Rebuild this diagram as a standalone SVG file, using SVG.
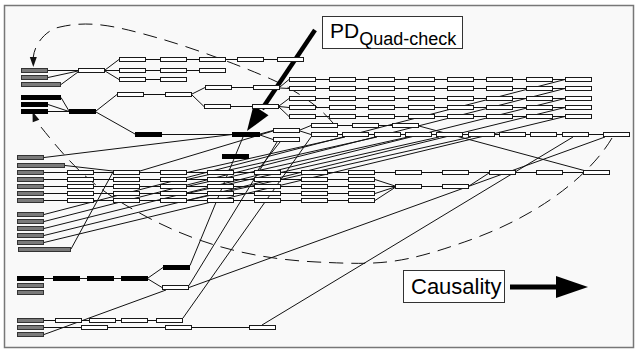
<svg xmlns="http://www.w3.org/2000/svg" width="637" height="350" viewBox="0 0 637 350">
<style>
.w{fill:#fff;stroke:#1a1a1a;stroke-width:1}
.g{fill:#7a7a7a;stroke:#333;stroke-width:1}
.k{fill:#000;stroke:#000;stroke-width:1}
.ln{fill:none;stroke:#111;stroke-width:1}
.ds{fill:none;stroke:#111;stroke-width:1;stroke-dasharray:14,8}
.lb{fill:#fff;stroke:#333;stroke-width:1}
text{font-family:"Liberation Sans",Arial,sans-serif;fill:#000}
</style>
<rect x="0" y="0" width="637" height="350" fill="#fff"/>
<rect x="4.5" y="5.5" width="629" height="342" fill="#f9f9f9" stroke="#777" stroke-width="1.5"/>
<g id="connectors">
<path class="ln" d="M48,70.5H78 M48,77.5L78,71 M61,84.5L78,72 M105,70L119,59.5 M105,70.5H119 M105,71L119,79.5 M119,59.5H304 M119,70.5H226 M119,79.5H187"/>
<path class="ln" d="M61,97.5L69,111 M48,104.5L69,111.5 M48,111.5H69 M96,111L117,94.5 M96,112L135,134 M144,94.5H165 M192,94L205,87.5 M192,95L204,106.5 M232,87.5H253 M231,106.5H252 M280,87L289,79.5 M280,88L289,88.5 M279,106L289,98.5 M279,106.5L289,107.5 M279,107L289,116.5 M162,134.5H232 M260,134L273,130.5 M260,135L273,139.5 M300,130L311,125.5 M300,131L311,134.5"/>
<path class="ln" d="M289,79.5H592 M289,88.5H592 M289,98.5H592 M289,107.5H592 M289,116.5H592 M311,125.5H419 M311,134.5H630 M419,126L586,171"/>
<path class="ln" d="M44,172.5H583 M44,179.5H375 M44,186.5H450 M44,193.5H375 M44,200.5H375 M375,179.5L395,186 M375,193.5L395,187 M375,200.5L395,187.5 M469,186L489,173"/>
<path class="ln" d="M44,157.5L232,134.5 M65,165.5L113,171 M140,171L273,131 M71,249L113,172 M258,170L280,142"/>
<path class="ln" d="M190,265.5L243,137 M189,285.5L277,142 M183,318L311,137 M262,325L573,137 M189,287.5L605,137"/>
<path class="ln" d="M187,172.5L345,137 M187,179.5L377,137 M187,186.5L408,137 M187,193.5L439,137 M187,200.5L471,137"/>
<path class="ln" d="M44,214.5L565,79.5 M44,221.5L565,88.5 M44,228.5L565,98.5 M44,235.5L565,107.5 M44,242.5L565,116.5"/>
<path class="ln" d="M44,278.5H121 M148,278L163,267.5 M148,279L162,287.5 M44,320.5H156 M44,327.5H249 M44,334.5L166,290"/>
<path class="ds" d="M333,123 C318,105 295,90 273,80 S200,50 158,38 S90,20 60,27 C48,29 35,42 33.3,57"/>
<polygon points="33.3,67 29.8,57 36.8,57" fill="#111"/>
<path class="ds" d="M612,138 C590,175 540,215 470,240 S380,265 317,262 S200,245 147,217 S75,170 37,122"/>
<polygon points="32.5,111.5 39.3,119.8 32.7,122.2" fill="#111"/>
</g>
<g id="pd-arrow">
<line x1="315" y1="30" x2="262" y2="109" stroke="#000" stroke-width="4.5"/>
<polygon points="247,131 253.5,105.3 268.5,115.3" fill="#000"/>
</g>
<g id="g1a"><rect class="g" x="21.5" y="68.5" width="26" height="4"/></g>
<g id="g1b"><rect class="g" x="21.5" y="75.5" width="26" height="4"/></g>
<g id="g1c"><rect class="g" x="21.5" y="82.5" width="39" height="4"/></g>
<g id="nA"><rect class="w" x="78.5" y="68.5" width="26" height="4"/></g>
<g id="r1a"><rect class="w" x="119.5" y="57.5" width="26" height="4"/></g>
<g id="r1b"><rect class="w" x="160.5" y="57.5" width="26" height="4"/></g>
<g id="r1c"><rect class="w" x="199.5" y="57.5" width="26" height="4"/></g>
<g id="r1d"><rect class="w" x="237.5" y="57.5" width="26" height="4"/></g>
<g id="r1e"><rect class="w" x="277.5" y="57.5" width="26" height="4"/></g>
<g id="r2a"><rect class="w" x="119.5" y="68.5" width="26" height="4"/></g>
<g id="r2b"><rect class="w" x="160.5" y="68.5" width="26" height="4"/></g>
<g id="r2c"><rect class="w" x="199.5" y="68.5" width="26" height="4"/></g>
<g id="r3a"><rect class="w" x="119.5" y="77.5" width="26" height="4"/></g>
<g id="r3b"><rect class="w" x="160.5" y="77.5" width="26" height="4"/></g>
<g id="k1"><rect class="k" x="21.5" y="95.5" width="39" height="4"/></g>
<g id="k2"><rect class="k" x="21.5" y="102.5" width="26" height="4"/></g>
<g id="k3"><rect class="k" x="21.5" y="109.5" width="26" height="4"/></g>
<g id="nB"><rect class="k" x="69.5" y="109.5" width="26" height="4"/></g>
<g id="c1"><rect class="w" x="117.5" y="92.5" width="26" height="4"/></g>
<g id="c2"><rect class="w" x="165.5" y="92.5" width="26" height="4"/></g>
<g id="c3"><rect class="w" x="205.5" y="85.5" width="26" height="4"/></g>
<g id="c4"><rect class="w" x="204.5" y="104.5" width="26" height="4"/></g>
<g id="c5"><rect class="w" x="253.5" y="85.5" width="26" height="4"/></g>
<g id="c6"><rect class="w" x="252.5" y="104.5" width="26" height="4"/></g>
<g id="kb"><rect class="k" x="135.5" y="132.5" width="26" height="4"/></g>
<g id="pd"><rect class="k" x="232.5" y="132.5" width="27" height="4"/></g>
<g id="kc"><rect class="k" x="222.5" y="154.5" width="26" height="4"/></g>
<g id="p1"><rect class="w" x="273.5" y="128.5" width="26" height="4"/></g>
<g id="p2"><rect class="w" x="273.5" y="137.5" width="26" height="4"/></g>
<g id="u11"><rect class="w" x="289.5" y="77.5" width="26" height="4"/></g>
<g id="u12"><rect class="w" x="329.5" y="77.5" width="26" height="4"/></g>
<g id="u13"><rect class="w" x="368.5" y="77.5" width="26" height="4"/></g>
<g id="u14"><rect class="w" x="408.5" y="77.5" width="26" height="4"/></g>
<g id="u15"><rect class="w" x="447.5" y="77.5" width="26" height="4"/></g>
<g id="u16"><rect class="w" x="486.5" y="77.5" width="26" height="4"/></g>
<g id="u17"><rect class="w" x="526.5" y="77.5" width="26" height="4"/></g>
<g id="u18"><rect class="w" x="565.5" y="77.5" width="26" height="4"/></g>
<g id="u21"><rect class="w" x="289.5" y="86.5" width="26" height="4"/></g>
<g id="u22"><rect class="w" x="329.5" y="86.5" width="26" height="4"/></g>
<g id="u23"><rect class="w" x="368.5" y="86.5" width="26" height="4"/></g>
<g id="u24"><rect class="w" x="408.5" y="86.5" width="26" height="4"/></g>
<g id="u25"><rect class="w" x="447.5" y="86.5" width="26" height="4"/></g>
<g id="u26"><rect class="w" x="486.5" y="86.5" width="26" height="4"/></g>
<g id="u27"><rect class="w" x="526.5" y="86.5" width="26" height="4"/></g>
<g id="u28"><rect class="w" x="565.5" y="86.5" width="26" height="4"/></g>
<g id="u31"><rect class="w" x="289.5" y="96.5" width="26" height="4"/></g>
<g id="u32"><rect class="w" x="329.5" y="96.5" width="26" height="4"/></g>
<g id="u33"><rect class="w" x="368.5" y="96.5" width="26" height="4"/></g>
<g id="u34"><rect class="w" x="408.5" y="96.5" width="26" height="4"/></g>
<g id="u35"><rect class="w" x="447.5" y="96.5" width="26" height="4"/></g>
<g id="u36"><rect class="w" x="486.5" y="96.5" width="26" height="4"/></g>
<g id="u37"><rect class="w" x="526.5" y="96.5" width="26" height="4"/></g>
<g id="u38"><rect class="w" x="565.5" y="96.5" width="26" height="4"/></g>
<g id="u41"><rect class="w" x="289.5" y="105.5" width="26" height="4"/></g>
<g id="u42"><rect class="w" x="329.5" y="105.5" width="26" height="4"/></g>
<g id="u43"><rect class="w" x="368.5" y="105.5" width="26" height="4"/></g>
<g id="u44"><rect class="w" x="408.5" y="105.5" width="26" height="4"/></g>
<g id="u45"><rect class="w" x="447.5" y="105.5" width="26" height="4"/></g>
<g id="u46"><rect class="w" x="486.5" y="105.5" width="26" height="4"/></g>
<g id="u47"><rect class="w" x="526.5" y="105.5" width="26" height="4"/></g>
<g id="u48"><rect class="w" x="565.5" y="105.5" width="26" height="4"/></g>
<g id="u51"><rect class="w" x="289.5" y="114.5" width="26" height="4"/></g>
<g id="u52"><rect class="w" x="329.5" y="114.5" width="26" height="4"/></g>
<g id="u53"><rect class="w" x="368.5" y="114.5" width="26" height="4"/></g>
<g id="u54"><rect class="w" x="408.5" y="114.5" width="26" height="4"/></g>
<g id="u55"><rect class="w" x="447.5" y="114.5" width="26" height="4"/></g>
<g id="u56"><rect class="w" x="486.5" y="114.5" width="26" height="4"/></g>
<g id="u57"><rect class="w" x="526.5" y="114.5" width="26" height="4"/></g>
<g id="u58"><rect class="w" x="565.5" y="114.5" width="26" height="4"/></g>
<g id="s1"><rect class="w" x="311.5" y="123.5" width="26" height="4"/></g>
<g id="s2"><rect class="w" x="352.5" y="123.5" width="26" height="4"/></g>
<g id="s3"><rect class="w" x="392.5" y="123.5" width="26" height="4"/></g>
<g id="t1"><rect class="w" x="311.5" y="132.5" width="26" height="4"/></g>
<g id="t2"><rect class="w" x="342.5" y="132.5" width="26" height="4"/></g>
<g id="t3"><rect class="w" x="374.5" y="132.5" width="26" height="4"/></g>
<g id="t4"><rect class="w" x="405.5" y="132.5" width="26" height="4"/></g>
<g id="t5"><rect class="w" x="436.5" y="132.5" width="26" height="4"/></g>
<g id="t6"><rect class="w" x="468.5" y="132.5" width="26" height="4"/></g>
<g id="t7"><rect class="w" x="499.5" y="132.5" width="26" height="4"/></g>
<g id="t8"><rect class="w" x="530.5" y="132.5" width="26" height="4"/></g>
<g id="t9"><rect class="w" x="562.5" y="132.5" width="26" height="4"/></g>
<g id="t10"><rect class="w" x="603.5" y="132.5" width="26" height="4"/></g>
<g id="gl1"><rect class="g" x="17.5" y="155.5" width="26" height="4"/></g>
<g id="gl2"><rect class="g" x="17.5" y="163.5" width="47" height="4"/></g>
<g id="gl3"><rect class="g" x="17.5" y="170.5" width="26" height="4"/></g>
<g id="gl4"><rect class="g" x="17.5" y="177.5" width="26" height="4"/></g>
<g id="gl5"><rect class="g" x="17.5" y="184.5" width="26" height="4"/></g>
<g id="gl6"><rect class="g" x="17.5" y="191.5" width="26" height="4"/></g>
<g id="gl7"><rect class="g" x="17.5" y="198.5" width="26" height="4"/></g>
<g id="gl8"><rect class="g" x="17.5" y="212.5" width="26" height="4"/></g>
<g id="gl9"><rect class="g" x="17.5" y="219.5" width="26" height="4"/></g>
<g id="gl10"><rect class="g" x="17.5" y="226.5" width="26" height="4"/></g>
<g id="gl11"><rect class="g" x="17.5" y="233.5" width="26" height="4"/></g>
<g id="gl12"><rect class="g" x="17.5" y="240.5" width="26" height="4"/></g>
<g id="gl13"><rect class="g" x="18.5" y="247.5" width="52" height="4"/></g>
<g id="l11"><rect class="w" x="67.5" y="170.5" width="26" height="4"/></g>
<g id="l12"><rect class="w" x="113.5" y="170.5" width="26" height="4"/></g>
<g id="l13"><rect class="w" x="160.5" y="170.5" width="26" height="4"/></g>
<g id="l14"><rect class="w" x="207.5" y="170.5" width="26" height="4"/></g>
<g id="l15"><rect class="w" x="254.5" y="170.5" width="26" height="4"/></g>
<g id="l16"><rect class="w" x="301.5" y="170.5" width="26" height="4"/></g>
<g id="l17"><rect class="w" x="348.5" y="170.5" width="26" height="4"/></g>
<g id="l18"><rect class="w" x="395.5" y="170.5" width="26" height="4"/></g>
<g id="l19"><rect class="w" x="442.5" y="170.5" width="26" height="4"/></g>
<g id="l110"><rect class="w" x="489.5" y="170.5" width="26" height="4"/></g>
<g id="l111"><rect class="w" x="536.5" y="170.5" width="26" height="4"/></g>
<g id="l112"><rect class="w" x="583.5" y="170.5" width="26" height="4"/></g>
<g id="l21"><rect class="w" x="67.5" y="177.5" width="26" height="4"/></g>
<g id="l22"><rect class="w" x="113.5" y="177.5" width="26" height="4"/></g>
<g id="l23"><rect class="w" x="160.5" y="177.5" width="26" height="4"/></g>
<g id="l24"><rect class="w" x="207.5" y="177.5" width="26" height="4"/></g>
<g id="l25"><rect class="w" x="254.5" y="177.5" width="26" height="4"/></g>
<g id="l26"><rect class="w" x="301.5" y="177.5" width="26" height="4"/></g>
<g id="l27"><rect class="w" x="348.5" y="177.5" width="26" height="4"/></g>
<g id="l31"><rect class="w" x="67.5" y="184.5" width="26" height="4"/></g>
<g id="l32"><rect class="w" x="113.5" y="184.5" width="26" height="4"/></g>
<g id="l33"><rect class="w" x="160.5" y="184.5" width="26" height="4"/></g>
<g id="l34"><rect class="w" x="207.5" y="184.5" width="26" height="4"/></g>
<g id="l35"><rect class="w" x="254.5" y="184.5" width="26" height="4"/></g>
<g id="l36"><rect class="w" x="301.5" y="184.5" width="26" height="4"/></g>
<g id="l37"><rect class="w" x="348.5" y="184.5" width="26" height="4"/></g>
<g id="l38"><rect class="w" x="395.5" y="184.5" width="26" height="4"/></g>
<g id="l39"><rect class="w" x="442.5" y="184.5" width="26" height="4"/></g>
<g id="l41"><rect class="w" x="67.5" y="191.5" width="26" height="4"/></g>
<g id="l42"><rect class="w" x="113.5" y="191.5" width="26" height="4"/></g>
<g id="l43"><rect class="w" x="160.5" y="191.5" width="26" height="4"/></g>
<g id="l44"><rect class="w" x="207.5" y="191.5" width="26" height="4"/></g>
<g id="l45"><rect class="w" x="254.5" y="191.5" width="26" height="4"/></g>
<g id="l46"><rect class="w" x="301.5" y="191.5" width="26" height="4"/></g>
<g id="l47"><rect class="w" x="348.5" y="191.5" width="26" height="4"/></g>
<g id="l51"><rect class="w" x="67.5" y="198.5" width="26" height="4"/></g>
<g id="l52"><rect class="w" x="113.5" y="198.5" width="26" height="4"/></g>
<g id="l53"><rect class="w" x="160.5" y="198.5" width="26" height="4"/></g>
<g id="l54"><rect class="w" x="207.5" y="198.5" width="26" height="4"/></g>
<g id="l55"><rect class="w" x="254.5" y="198.5" width="26" height="4"/></g>
<g id="l56"><rect class="w" x="301.5" y="198.5" width="26" height="4"/></g>
<g id="l57"><rect class="w" x="348.5" y="198.5" width="26" height="4"/></g>
<g id="kd1"><rect class="k" x="17.5" y="276.5" width="26" height="4"/></g>
<g id="kd2"><rect class="k" x="53.5" y="276.5" width="26" height="4"/></g>
<g id="kd3"><rect class="k" x="87.5" y="276.5" width="26" height="4"/></g>
<g id="kd4"><rect class="k" x="121.5" y="276.5" width="26" height="4"/></g>
<g id="gb1"><rect class="g" x="17.5" y="283.5" width="26" height="4"/></g>
<g id="gb2"><rect class="g" x="17.5" y="290.5" width="26" height="4"/></g>
<g id="ke"><rect class="k" x="163.5" y="265.5" width="26" height="4"/></g>
<g id="wf"><rect class="w" x="162.5" y="285.5" width="26" height="4"/></g>
<g id="gc1"><rect class="g" x="17.5" y="318.5" width="26" height="4"/></g>
<g id="gc2"><rect class="g" x="17.5" y="325.5" width="26" height="4"/></g>
<g id="gc3"><rect class="g" x="17.5" y="332.5" width="26" height="4"/></g>
<g id="wr1a"><rect class="w" x="55.5" y="318.5" width="26" height="4"/></g>
<g id="wr1b"><rect class="w" x="89.5" y="318.5" width="26" height="4"/></g>
<g id="wr1c"><rect class="w" x="121.5" y="318.5" width="26" height="4"/></g>
<g id="wr1d"><rect class="w" x="156.5" y="318.5" width="26" height="4"/></g>
<g id="wr2a"><rect class="w" x="81.5" y="325.5" width="26" height="4"/></g>
<g id="wr2b"><rect class="w" x="165.5" y="325.5" width="26" height="4"/></g>
<g id="wr2c"><rect class="w" x="249.5" y="325.5" width="26" height="4"/></g>
<g id="label-pd">
<rect class="lb" x="322.5" y="16.5" width="140" height="32"/>
<text x="330" y="38" font-size="21">PD<tspan font-size="18" dy="7">Quad-check</tspan></text>
</g>
<g id="label-causality">
<rect class="lb" x="403.5" y="270.5" width="101" height="32"/>
<text x="411" y="294" font-size="22">Causality</text>
<line x1="510" y1="287" x2="557" y2="287" stroke="#000" stroke-width="5"/>
<polygon points="556,276 588,287 556,298" fill="#000"/>
</g>
</svg>
